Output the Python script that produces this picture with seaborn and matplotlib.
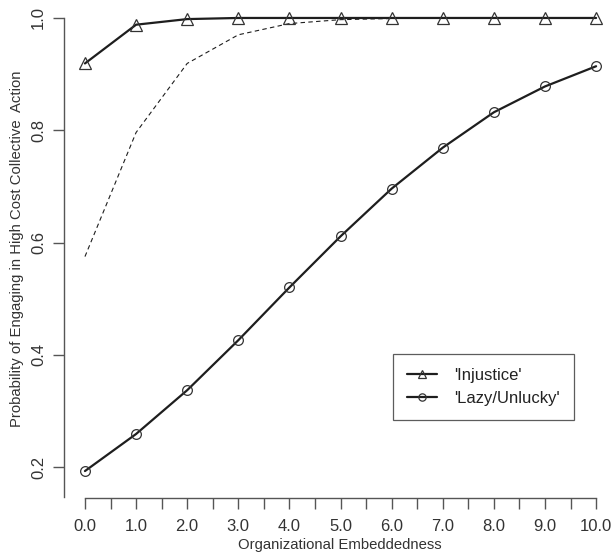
import numpy as np
import pandas as pd
import seaborn as sns
import matplotlib.pyplot as plt

embed = [0, 1, 2, 3, 4, 5, 6, 7, 8, 9, 10]
injustice = [0.919, 0.988, 0.998, 1.0, 1.0, 1.0, 1.0, 1.0, 1.0, 1.0, 1.0]
lazy = [0.193, 0.259, 0.337, 0.426, 0.520, 0.611, 0.696, 0.769, 0.832, 0.878, 0.914]
dashed = [0.575, 0.796, 0.919, 0.970, 0.990, 0.997, 0.999, 1.0, 1.0, 1.0, 1.0]

sns.set_theme(style="ticks")
plt.rcParams['font.family'] = ['Liberation Sans', 'DejaVu Sans']

fig = plt.figure(figsize=(6.15, 5.54), dpi=100)
ax = fig.add_axes([64 / 615, 56 / 554, 551 / 615, 498 / 554])

df = pd.DataFrame({"x": embed, "inj": injustice, "lazy": lazy, "dash": dashed})

ink = "#1e1e1e"
sns.lineplot(data=df, x="x", y="dash", ax=ax, color=ink, linestyle=(0, (4, 3)),
             linewidth=0.8, label="_nolegend_")
sns.lineplot(data=df, x="x", y="inj", ax=ax, color=ink, linewidth=1.6,
             marker="^", markersize=8, markerfacecolor="none",
             markeredgecolor="#333333", markeredgewidth=0.9, label="'Injustice'")
sns.lineplot(data=df, x="x", y="lazy", ax=ax, color=ink, linewidth=1.6,
             marker="o", markersize=7, markerfacecolor="none",
             markeredgecolor="#333333", markeredgewidth=0.9, label="'Lazy/Unlucky'")

ax.set_xlim(-0.41, 10.37)
ax.set_ylim(0.145, 1.032)

xt = np.arange(0, 10.5, 0.5)
ax.set_xticks(xt)
ax.set_xticklabels([f"{v:.1f}" if v == int(v) else "" for v in xt], fontsize=12, color="#333333")
ax.set_yticks([0.2, 0.4, 0.6, 0.8, 1.0])
ax.set_yticklabels(["0.2", "0.4", "0.6", "0.8", "1.0"], fontsize=12, color="#333333",
                   rotation=90, va="center")

for s in ["top", "right"]:
    ax.spines[s].set_visible(False)
ax.spines["left"].set_bounds(0.147, 1.0)
ax.spines["bottom"].set_bounds(0, 10)
for s in ["left", "bottom"]:
    ax.spines[s].set_color("#555555")
    ax.spines[s].set_linewidth(1.0)
ax.tick_params(axis="x", length=8, width=1.0, color="#555555", pad=7)
ax.tick_params(axis="y", length=8, width=1.0, color="#555555", pad=5)

ax.set_xlabel("Organizational Embeddedness", fontsize=10.7, color="#333333", labelpad=3)
ax.set_ylabel("Probability of Engaging in High Cost Collective  Action", fontsize=10.7,
              color="#333333", labelpad=5)

leg = ax.legend(loc="upper left", bbox_to_anchor=(329 / 551, 1 - 354 / 498),
                fontsize=12, frameon=True, fancybox=False, borderpad=0.85,
                handlelength=1.8, handletextpad=1.0, labelspacing=0.45, borderaxespad=0,
                markerscale=0.75)
leg.get_frame().set_edgecolor("#333333")
leg.get_frame().set_linewidth(0.9)
for t in leg.get_texts():
    t.set_color("#222222")

fig.savefig("out.png", dpi=100)
